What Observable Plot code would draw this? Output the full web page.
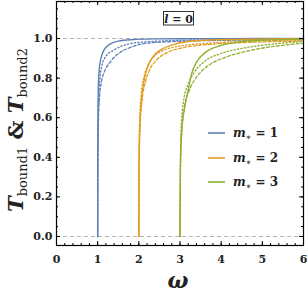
<!DOCTYPE html>
<html><head><meta charset="utf-8">
<script src="https://cdn.jsdelivr.net/npm/d3@7"></script>
<script src="https://cdn.jsdelivr.net/npm/@observablehq/plot@0.6"></script>
<style>body{margin:0;background:#fff} svg{display:block}</style>
</head><body><div id="chart"></div>
<script>
// ---- data ----
const masses = [1, 2, 3];
const colors = ["#5e81b5", "#e19c24", "#8fb032"];
const xTicks = [0, 1, 2, 3, 4, 5, 6];
const yTicks = [0, 0.2, 0.4, 0.6, 0.8, 1.0];
const xMinor = d3.range(0, 6.01, 0.2);
const yMinor = d3.range(0, 1.16, 0.05);

// [omega, T]
const m1Solid = [[1,0],[1.002,0.40],[1.008,0.65],[1.02,0.78],[1.04,0.85],[1.08,0.90],[1.15,0.94],[1.3,0.972],[1.5,0.987],[1.8,0.994],[2.5,0.998],[4,0.9995],[6,1.0]];
const m1Dot   = [[1,0],[1.003,0.35],[1.01,0.58],[1.03,0.72],[1.06,0.81],[1.1,0.86],[1.2,0.91],[1.38,0.94],[1.6,0.963],[1.9,0.978],[2.5,0.987],[3.5,0.993],[6,0.997]];
const m1Dash  = [[1,0],[1.004,0.32],[1.015,0.55],[1.04,0.69],[1.09,0.78],[1.16,0.83],[1.3,0.88],[1.48,0.92],[1.8,0.955],[2.15,0.975],[3,0.986],[4.5,0.992],[6,0.995]];

const m2Solid = [[2,0],[2.005,0.35],[2.02,0.55],[2.06,0.68],[2.13,0.79],[2.22,0.86],[2.35,0.91],[2.55,0.945],[2.8,0.967],[3.2,0.985],[3.8,0.993],[4.8,0.997],[6,0.999]];
const m2Dot   = [[2,0],[2.005,0.35],[2.02,0.58],[2.06,0.72],[2.12,0.80],[2.2,0.855],[2.35,0.905],[2.6,0.94],[3.0,0.962],[3.6,0.975],[4.5,0.985],[6,0.992]];
const m2Dash  = [[2,0],[2.006,0.32],[2.03,0.55],[2.08,0.69],[2.16,0.78],[2.26,0.84],[2.45,0.895],[2.7,0.93],[3.1,0.955],[3.7,0.97],[4.6,0.98],[6,0.987]];

const m3Solid = [[3,0],[3.01,0.35],[3.04,0.52],[3.1,0.64],[3.18,0.72],[3.28,0.82],[3.4,0.88],[3.62,0.93],[4.0,0.965],[4.4,0.982],[5.0,0.992],[6,0.997]];
const m3Dot   = [[3,0],[3.008,0.35],[3.03,0.56],[3.09,0.69],[3.2,0.77],[3.35,0.83],[3.6,0.885],[4.0,0.925],[4.5,0.95],[5.0,0.966],[5.5,0.977],[6,0.985]];
const m3Dash  = [[3,0],[3.01,0.32],[3.04,0.53],[3.12,0.66],[3.25,0.75],[3.42,0.81],[3.7,0.865],[4.1,0.905],[4.6,0.935],[5.1,0.955],[5.6,0.968],[6,0.977]];

const solids = [m1Solid, m2Solid, m3Solid];
const dots = [m1Dot, m2Dot, m3Dot];
const dashes = [m1Dash, m2Dash, m3Dash];

// ---- layout ----
const W = 307, H = 302;
const mL = 56, mR = 4, mT = 1, mB = 57;
const innerH = H - mT - mB, innerW = W - mL - mR;
const serif = "DejaVu Serif";

const lineMarks = [];
masses.forEach((m, i) => {
  lineMarks.push(Plot.line(dashes[i], {x: d => d[0], y: d => d[1], stroke: colors[i], strokeWidth: 1.3, strokeDasharray: "3,2", curve: "monotone-x"}));
  lineMarks.push(Plot.line(dots[i], {x: d => d[0], y: d => d[1], stroke: colors[i], strokeWidth: 1.4, strokeDasharray: "1.2,2.3", curve: "monotone-x"}));
  lineMarks.push(Plot.line(solids[i], {x: d => d[0], y: d => d[1], stroke: colors[i], strokeWidth: 1.4, curve: "monotone-x"}));
});

const plot = Plot.plot({
  width: W, height: H,
  marginLeft: mL, marginRight: mR, marginTop: mT, marginBottom: mB,
  x: {domain: [0, 6]},
  y: {domain: [-0.0455, 1.187]},
  marks: [
    Plot.ruleY([0, 1], {stroke: "#b5b5b5", strokeWidth: 1, strokeDasharray: "4,3"}),
    ...lineMarks,
    Plot.frame({stroke: "#000", strokeWidth: 1.2}),
    Plot.tickX(xTicks, {x: d => d, insetTop: innerH - 4, stroke: "#000"}),
    Plot.tickX(xTicks, {x: d => d, insetBottom: innerH - 4, stroke: "#000"}),
    Plot.tickX(xMinor, {x: d => d, insetTop: innerH - 2, stroke: "#000"}),
    Plot.tickX(xMinor, {x: d => d, insetBottom: innerH - 2, stroke: "#000"}),
    Plot.tickY(yTicks, {y: d => d, insetRight: innerW - 4, stroke: "#000"}),
    Plot.tickY(yTicks, {y: d => d, insetLeft: innerW - 4, stroke: "#000"}),
    Plot.tickY(yMinor, {y: d => d, insetRight: innerW - 2, stroke: "#000"}),
    Plot.tickY(yMinor, {y: d => d, insetLeft: innerW - 2, stroke: "#000"}),
    Plot.axisX(xTicks, {tickSize: 0, tickPadding: 10, label: null, fontSize: 11, fontWeight: "bold", fontFamily: serif, fill: "#222"}),
    Plot.axisY(yTicks, {tickSize: 0, tickPadding: 4, label: null, tickFormat: d3.format(".1f"), fontSize: 11, fontWeight: "bold", fontFamily: serif, fill: "#222"})
  ]
});
document.getElementById("chart").append(plot);

const svg = d3.select(plot);

// y label
const yl = svg.append("text")
  .attr("transform", "translate(23,130) rotate(-90)")
  .attr("text-anchor", "middle")
  .style("font-family", serif).style("font-size", "21px").style("font-weight", "bold").attr("fill", "#222");
yl.append("tspan").style("font-style", "italic").text("T");
yl.append("tspan").style("font-size", "13px").style("font-weight", "normal").attr("dy", 4).text("bound1");
yl.append("tspan").attr("dy", -4).text(" & ");
yl.append("tspan").style("font-style", "italic").text("T");
yl.append("tspan").style("font-size", "13px").style("font-weight", "normal").attr("dy", 4).text("bound2");

// x label
svg.append("text").attr("x", 178).attr("y", 288).attr("text-anchor", "middle")
  .style("font-family", serif).style("font-size", "22px").style("font-weight", "bold").style("font-style", "italic")
  .attr("fill", "#222").text("ω");

// l = 0 box
svg.append("rect").attr("x", 163.5).attr("y", 11.5).attr("width", 30).attr("height", 13.5)
  .attr("fill", "#fff").attr("stroke", "#333").attr("stroke-width", 1);
const lt = svg.append("text").attr("x", 178.5).attr("y", 22.5).attr("text-anchor", "middle")
  .style("font-family", serif).style("font-size", "11px").style("font-weight", "bold").attr("fill", "#222");
lt.append("tspan").style("font-style", "italic").text("l");
lt.append("tspan").text(" = 0");

// legend
const legY = [133, 158, 182];
masses.forEach((m, i) => {
  svg.append("line").attr("x1", 208).attr("x2", 225).attr("y1", legY[i]).attr("y2", legY[i])
    .attr("stroke", colors[i]).attr("stroke-width", 1.6);
  const t = svg.append("text").attr("x", 233).attr("y", legY[i] + 4).attr("text-anchor", "start")
    .style("font-family", serif).style("font-size", "12px").style("font-weight", "bold").attr("fill", "#222");
  t.append("tspan").style("font-style", "italic").text("m");
  t.append("tspan").style("font-size", "8px").attr("dy", 3).text("∗");
  t.append("tspan").attr("dy", -3).text(" = " + m);
});
</script>
</body></html>
